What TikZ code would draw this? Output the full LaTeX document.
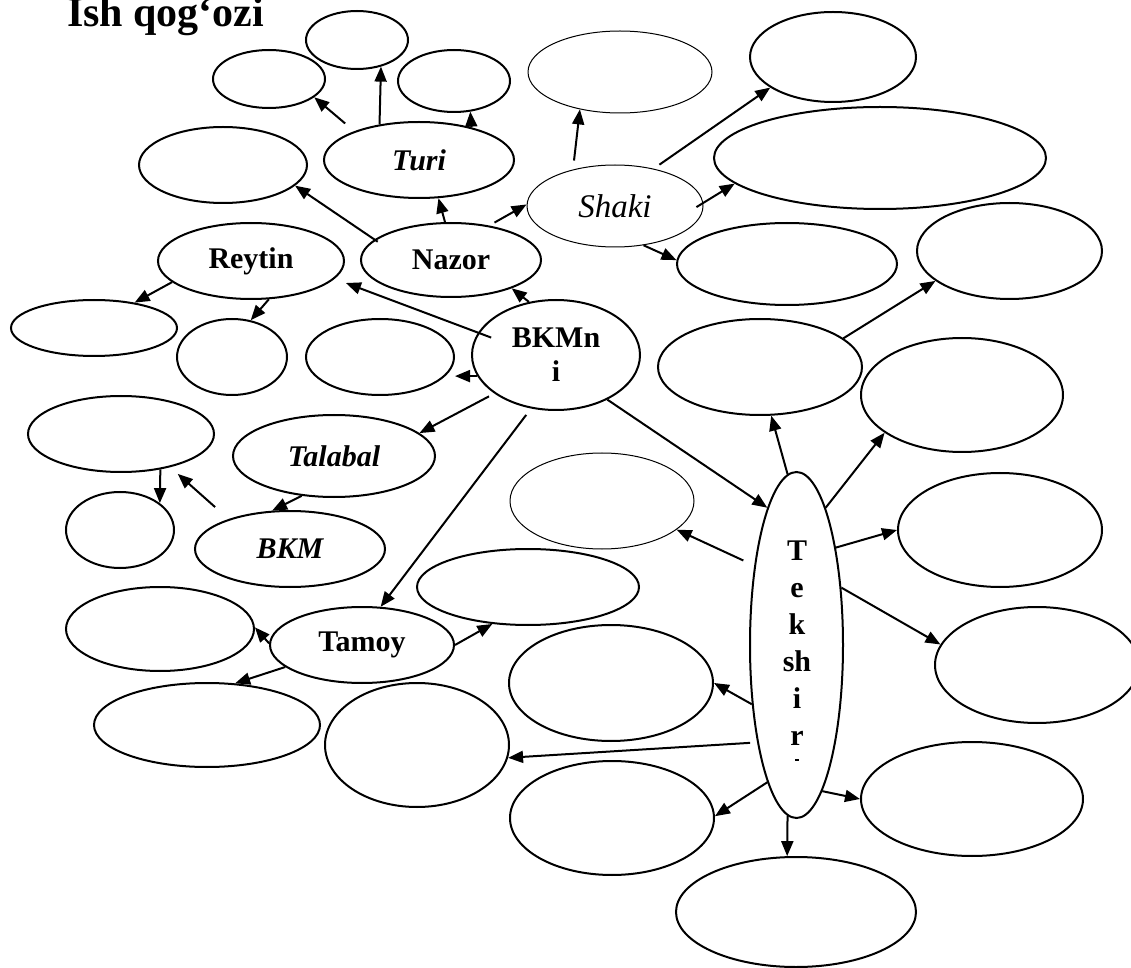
\documentclass[tikz,border=0pt]{standalone}
\usepackage{fontspec}
\setmainfont{Liberation Serif}
\usetikzlibrary{shapes.geometric,arrows.meta}
\begin{document}
\begin{tikzpicture}[x=0.5pt,y=-0.5pt,
  ell/.style={draw,ellipse,line width=1pt,inner sep=0pt},
  thinell/.style={draw,ellipse,line width=0.5pt,inner sep=0pt},
  e/.style 2 args={minimum width=#1pt,minimum height=#2pt},
  lbl/.style={font=\fontsize{15pt}{18pt}\selectfont\bfseries},
  lbli/.style={font=\fontsize{15pt}{18pt}\selectfont\bfseries\itshape},
  arr/.style={line width=1pt,-{Triangle[length=7.5pt,width=6pt]}}]
\useasboundingbox (0,0) rectangle (1131,968);

\node[anchor=base west,font=\fontsize{21pt}{25pt}\selectfont\bfseries] (title) at (60,27) {Ish qog‘ozi};

% ellipses
\node[ell,e={51}{29}] (n1) at (357,40) {};
\node[ell,e={56}{29}] (n2) at (269,79) {};
\node[ell,e={56}{31}] (n3) at (454,81) {};
\node[thinell,e={92}{41}] (n4) at (620,72) {};
\node[ell,e={83}{45}] (n5) at (833,57) {};
\node[ell,e={84}{38}] (n6) at (223,165) {};
\node[ell,e={95}{38},lbli] (turi) at (419,160) {Turi};
\node[ell,e={166}{51}] (big) at (880,158) {};
\node[thinell,e={88}{41},font=\fontsize{16.5pt}{19pt}\selectfont\itshape] (shaki) at (615,206) {Shaki};
\node[ell,e={110}{41}] (r0) at (787,264) {};
\node[ell,e={93}{38},lbl] (reytin) at (251,261) {Reytin};
\node[ell,e={90}{37},lbl] (nazor) at (451,260) {Nazor};
\node[ell,e={92.5}{48}] (r1) at (1009.5,251) {};
\node[ell,e={83}{28}] (l1) at (94,328) {};
\node[ell,e={55}{38}] (l2) at (232,357) {};
\node[ell,e={74}{38}] (l3) at (380,357) {};
\node[ell,e={84}{55},align=center,font=\fontsize{15pt}{17pt}\selectfont\bfseries] (bkmni) at (556,355) {BKMn\\i};
\node[ell,e={102}{48}] (rm) at (760,367) {};
\node[ell,e={101}{57}] (r2) at (962,395) {};
\node[ell,e={93}{38}] (l4) at (121,434) {};
\node[ell,e={101}{41},lbli] (talabal) at (334,456) {Talabal};
\node[thinell,e={92}{48}] (mid) at (602,501) {};
\node[ell,e={54}{38}] (l5) at (120,530) {};
\node[ell,e={95}{38},lbli] (bkm) at (290,549) {BKM};
\node[ell,e={102}{57}] (r3) at (1000,530) {};
\node[ell,e={46.5}{173}] (tek) at (796.5,645) {};
\node[ell,e={111}{38}] (m2) at (528,587) {};
\node[ell,e={92}{38},lbl] (tamoy) at (362,645) {Tamoy};
\node[ell,e={94}{42}] (l6) at (160,629) {};
\node[ell,e={102}{58}] (r4) at (1037,665) {};
\node[ell,e={102}{58}] (m4) at (611,683) {};
\node[ell,e={113}{42}] (l7) at (207,725) {};
\node[ell,e={92}{62}] (m3) at (417,745) {};
\node[ell,e={102}{57}] (b1) at (612,818) {};
\node[ell,e={111}{57}] (b3) at (972,799) {};
\node[ell,e={120}{55}] (b2) at (796,912) {};

% vertical text of the narrow ellipse
\node[align=center,font=\fontsize{15pt}{18.5pt}\selectfont\bfseries,inner sep=0pt] (tektext) at (797,643) {T\\e\\k\\sh\\i\\r};
\fill (795,758.5) rectangle (798.5,761);

% connectors
\draw[arr,shorten <=6pt] (turi.156.5) -- (n2.-22.8);
\draw[arr] (turi.138) -- (n1.-48);
\draw[arr] (turi.32.5) -- (n3.-62);
\draw[arr,shorten <=-2pt] (nazor.165) -- (n6.-16);
\draw[arr] (nazor.99) -- (turi.-63);
\draw[arr,shorten <=3pt] (nazor.42) -- (shaki.179);
\draw[arr,shorten <=4.5pt] (shaki.139) -- (n4.-137);
\draw[arr,shorten <=3.5pt] (shaki.44) -- (n5.206);
\draw[arr,shorten <=-4pt] (shaki.2) -- (big.190);
\draw[arr] (shaki.-54) -- (r0.178);
\draw[arr] (bkmni.117) -- (nazor.-25);
\draw[arr,shorten <=-7pt,shorten >=6pt] (bkmni.164) -- (reytin.-12);
\draw[arr] (reytin.195) -- (l1.32);
\draw[arr] (reytin.-65) -- (l2.63);
\draw[arr] (bkmni.195) -- (bkmni.195 -| l3.east);
\draw[arr,shorten <=3pt] (bkmni.212) -- (talabal.15);
\draw[arr,shorten <=4pt] (bkmni.245) -- (tamoy.64);
\draw[arr] (bkmni.-41) -- (tek.102);
\draw[arr] (talabal.231) -- (bkm.115);
\draw[arr] (l4.-42) -- (l5.34);
\draw[arr,shorten <=9pt,shorten >=5pt] (bkm.154) -- (l4.-34);
\draw[arr] (tamoy.179) -- (l6.1);
\draw[arr] (tamoy.0) -- (m2.226);
\draw[arr] (tamoy.196) -- (l7.56);
\draw[arr] (tek.93) -- (rm.-77);
\draw[arr] (rm.19) -- (r1.202);
\draw[arr] (tek.78) -- (r2.206);
\draw[arr] (tek.68) -- (r3.180);
\draw[arr] (tek.52) -- (r4.168);
\draw[arr,shorten <=6pt] (tek.118) -- (mid.-21);
\draw[arr] (tek.-127) -- (m4.0);
\draw[arr,shorten <=3.5pt] (tek.248) -- (m3.-8);
\draw[arr] (tek.258) -- (b1.1);
\draw[arr] (tek.267) -- (b2.99);
\draw[arr] (tek.-80) -- (b3.180);
\end{tikzpicture}
\end{document}
